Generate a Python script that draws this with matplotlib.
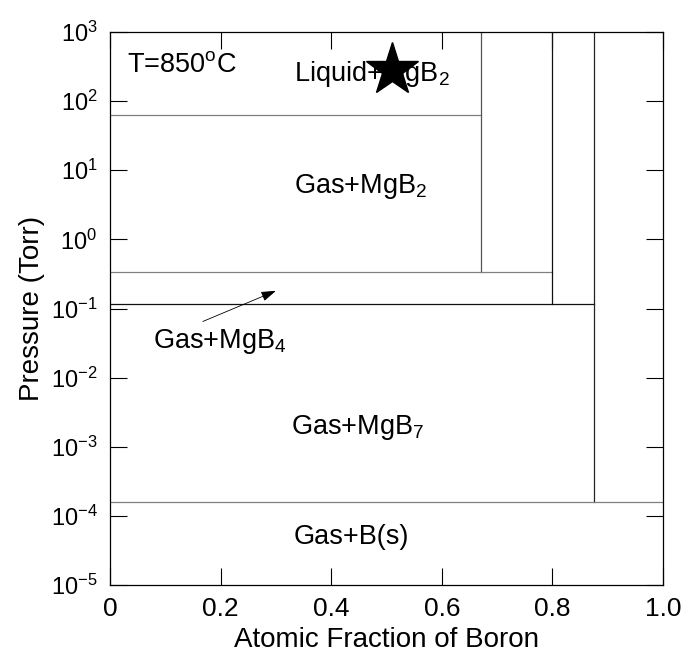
import numpy as np
import matplotlib
matplotlib.use("Agg")
from matplotlib import pyplot as plt

plt.rcParams['font.family'] = ['Liberation Sans', 'DejaVu Sans']
plt.rcParams['mathtext.fontset'] = 'custom'
plt.rcParams['mathtext.rm'] = 'Liberation Sans'
plt.rcParams['mathtext.it'] = 'Liberation Sans'

# phase boundaries (atomic fraction of B, pressure in Torr)
x_liq = 0.67
x_mgb4 = 0.80
x_mgb7 = 0.875
p_liq = 63.0
p_mgb2 = 0.34
p_mgb4 = 0.115
p_mgb7 = 1.6e-4

# boundary segments: x0, x1, y0, y1, colour
seg_x0 = [0, x_liq, 0, x_mgb4, 0, x_mgb7, 0]
seg_x1 = [x_liq, x_liq, x_mgb4, x_mgb4, x_mgb7, x_mgb7, 1.0]
seg_y0 = [p_liq, p_mgb2, p_mgb2, p_mgb4, p_mgb4, p_mgb7, p_mgb7]
seg_y1 = [p_liq, 1e3, p_mgb2, 1e3, p_mgb4, 1e3, p_mgb7]
seg_col = ['#808080', '#555555', '#808080', '#111111', '#111111', '#222222', '#808080']

# region labels (baseline positions)
labels = ['Liquid+MgB$_2$', 'Gas+MgB$_2$', 'Gas+MgB$_4$', 'Gas+MgB$_7$', 'Gas+B(s)']
label_x = [0.474, 0.453, 0.199, 0.448, 0.436]
label_p = [195, 4.65, 0.0272, 1.55e-3, 3.9e-5]

star_x, star_p = 0.51, 2.8e2
arrow_tip = (0.30, 0.18)
arrow_tail = (0.168, 0.065)

fig = plt.figure(figsize=(6.83, 6.64), dpi=100)
ax = fig.add_axes([110 / 683, 1 - 585 / 664, 553 / 683, 553 / 664])

for x0, x1, y0, y1, c in zip(seg_x0, seg_x1, seg_y0, seg_y1, seg_col):
    ax.plot([x0, x1], [y0, y1], color=c, lw=0.9)

ax.plot(star_x, star_p, marker='*', ms=40, color='black', zorder=5)

for t, x, p in zip(labels, label_x, label_p):
    ax.text(x, p, t, ha='center', va='baseline', fontsize=19.5)

ax.text(0.031, 263, 'T=850$^{\\mathrm{o}}$C', ha='left', va='baseline', fontsize=19.5)

ax.annotate('', xy=arrow_tip, xytext=arrow_tail,
            arrowprops=dict(arrowstyle='-|>,head_length=0.9,head_width=0.3',
                            color='black', lw=0.6, shrinkA=0, shrinkB=0))

ax.set_yscale('log')
ax.set_xlim(0, 1)
ax.set_ylim(1e-5, 1e3)
ax.set_xticks([0, 0.2, 0.4, 0.6, 0.8, 1.0])
ax.set_xticklabels(['0', '0.2', '0.4', '0.6', '0.8', '1.0'])
ax.set_yticks([10.0 ** k for k in range(-5, 4)])
ax.set_yticklabels(['10$^{%d}$' % k for k in range(-5, 4)])
ax.minorticks_off()
ax.tick_params(direction='in', length=12, width=0.8, top=True, right=True, pad=9)
ax.tick_params(axis='x', labelsize=19)
ax.tick_params(axis='y', labelsize=17)
for s in ax.spines.values():
    s.set_linewidth(0.9)

ax.set_xlabel('Atomic Fraction of Boron', fontsize=20, labelpad=4)
ax.set_ylabel('Pressure (Torr)', fontsize=20, labelpad=4)

fig.savefig('out.png', dpi=100)
